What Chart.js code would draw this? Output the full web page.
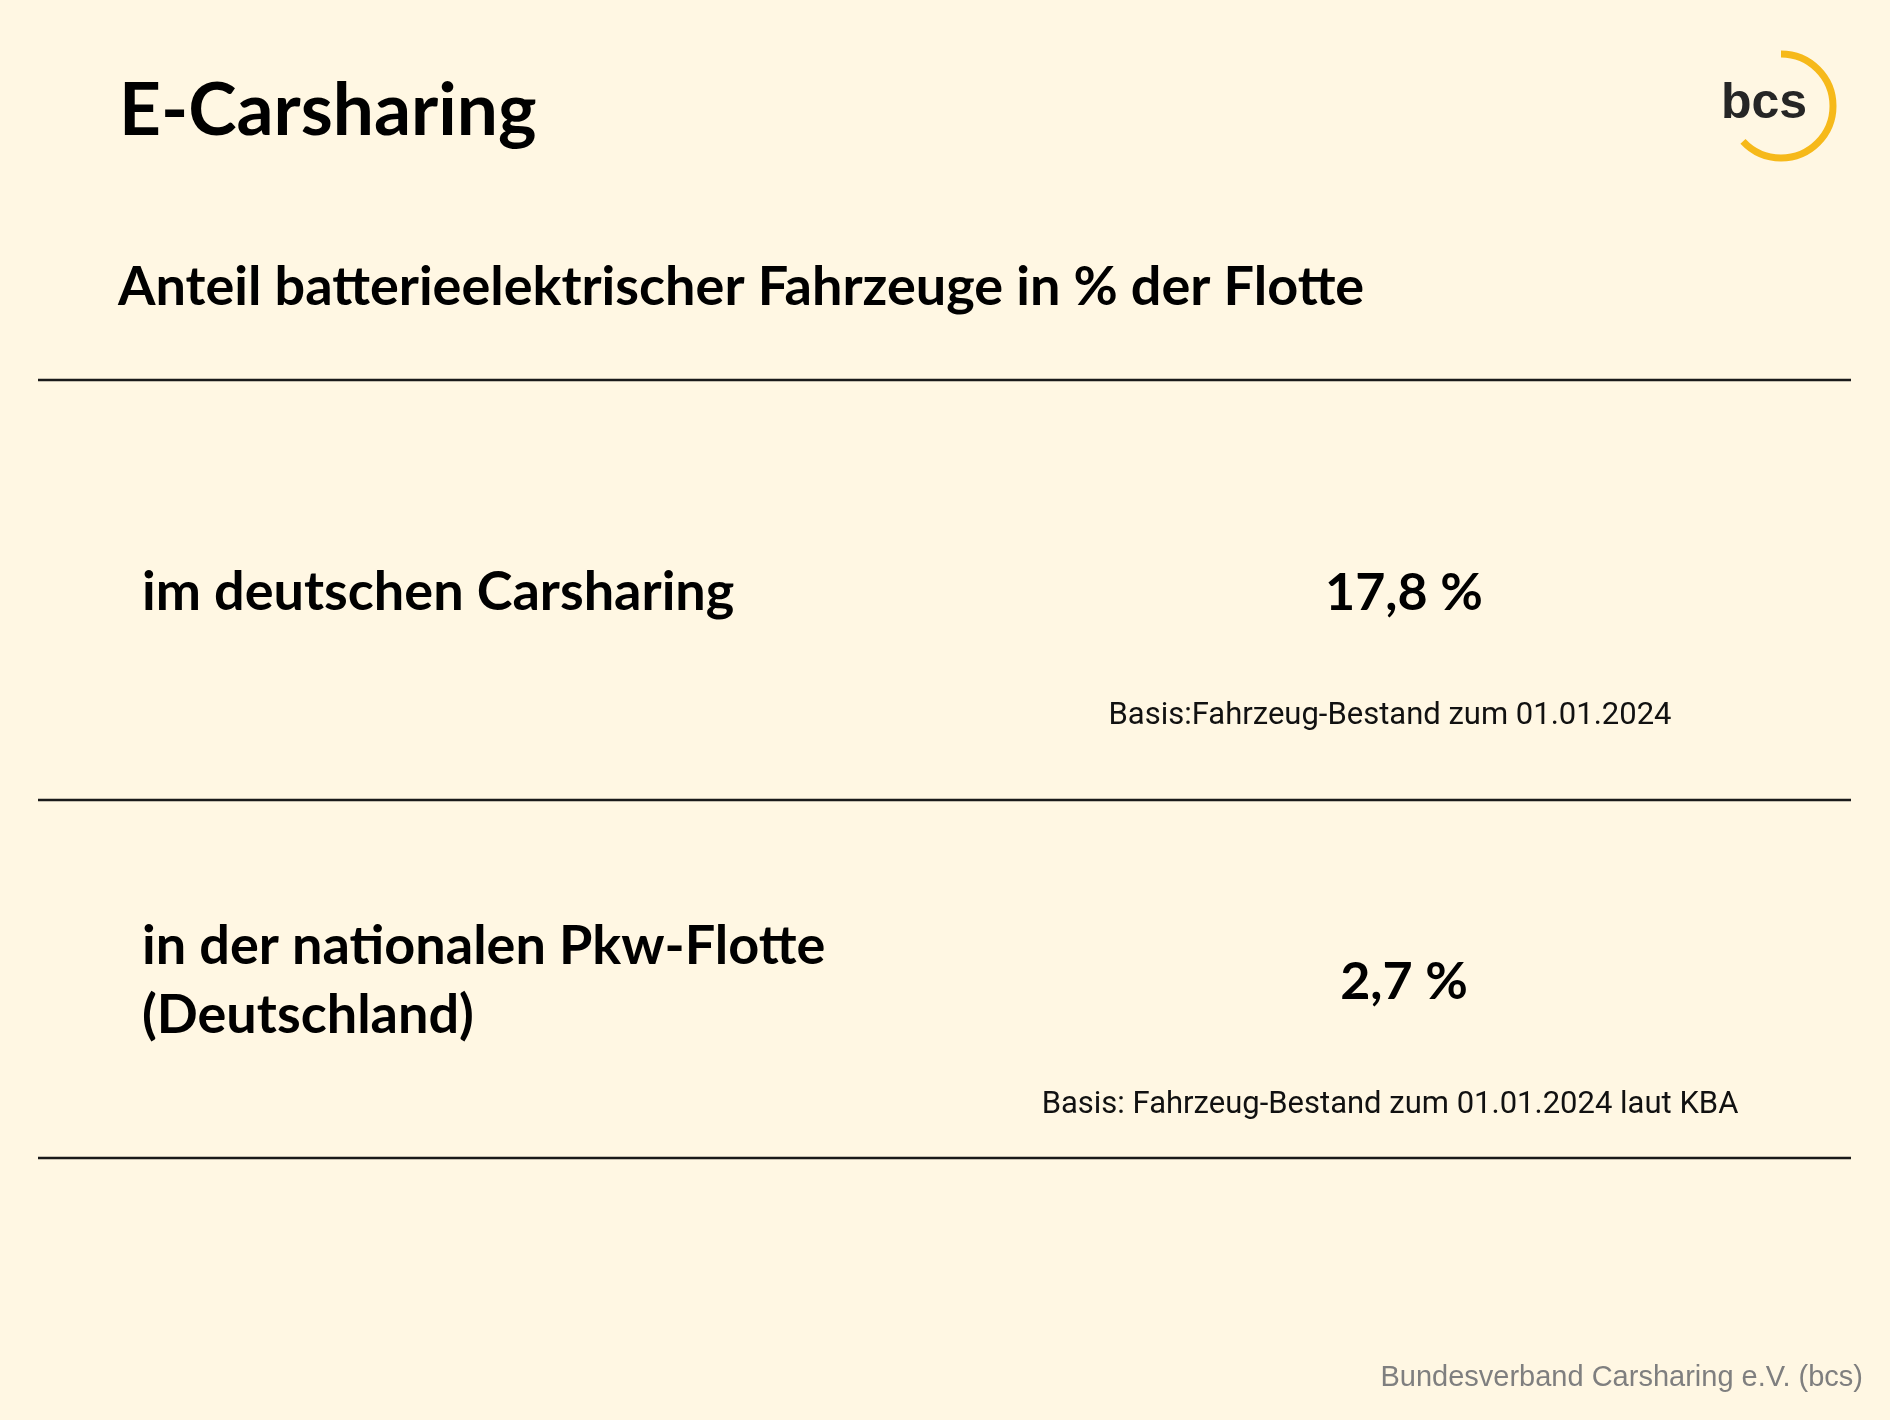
<!DOCTYPE html>
<html><head><meta charset="utf-8">
<script src="https://cdn.jsdelivr.net/npm/chart.js@4.4.1/dist/chart.umd.min.js"></script>
<style>
html,body{margin:0;padding:0;background:#FFF7E3;overflow:hidden;}
#wrap{width:1890px;height:1420px;position:relative;}
</style>
</head><body>
<div id="wrap"><canvas id="c" width="1890" height="1420"></canvas></div>
<script>
const titleText = 'E-Carsharing';
const subtitleText = 'Anteil batterieelektrischer Fahrzeuge in % der Flotte';
const categories = [['im deutschen Carsharing'], ['in der nationalen Pkw-Flotte', '(Deutschland)']];
const shares = [17.8, 2.7];
const basisNotes = ['Basis:Fahrzeug-Bestand zum 01.01.2024', 'Basis: Fahrzeug-Bestand zum 01.01.2024 laut KBA'];
const sourceText = 'Bundesverband Carsharing e.V. (bcs)';
const logoText = 'bcs';

const BG = '#FFF7E3';
const boldFont = '"Lato", "Open Sans", sans-serif';

function fmt(v) { return v.toFixed(1).replace('.', ',') + ' %'; }

const layoutPlugin = {
  id: 'tableLayout',
  beforeDraw(chart) {
    const ctx = chart.ctx;
    ctx.save();
    ctx.fillStyle = BG;
    ctx.fillRect(0, 0, chart.width, chart.height);
    ctx.restore();
  },
  afterDraw(chart) {
    const ctx = chart.ctx;
    const ca = chart.chartArea;
    const y = chart.scales.y;
    ctx.save();
    ctx.fillStyle = '#000';
    ctx.textBaseline = 'alphabetic';
    // title
    ctx.textAlign = 'left';
    ctx.font = 'bold 73px ' + boldFont;
    ctx.fillText(titleText, 119, 135);
    ctx.font = 'bold 54px ' + boldFont;
    ctx.fillText(subtitleText, 118, 305);

    // logo
    ctx.strokeStyle = '#F6B91A';
    ctx.lineWidth = 7;
    ctx.beginPath();
    ctx.arc(1781, 106, 52, -Math.PI / 2, 137 * Math.PI / 180);
    ctx.stroke();
    ctx.fillStyle = '#262626';
    ctx.font = 'bold 50px "Liberation Sans", Arial, sans-serif';
    ctx.textAlign = 'left';
    ctx.fillText(logoText, 1721, 118);

    // separators
    ctx.strokeStyle = '#1a1a1a';
    ctx.lineWidth = 2.5;
    const dividerY = 800;
    [ca.top, dividerY, ca.bottom].forEach(yy => {
      ctx.beginPath();
      ctx.moveTo(ca.left, yy);
      ctx.lineTo(ca.right, yy);
      ctx.stroke();
    });

    // rows
    const data = chart.data.datasets[0].data;
    chart.data.labels.forEach((lab, i) => {
      const yc = y.getPixelForValue(i);
      const base = yc + 35;
      const lines = Array.isArray(lab) ? lab : [lab];
      ctx.fillStyle = '#000';
      ctx.textAlign = 'left';
      ctx.font = 'bold 54px ' + boldFont;
      lines.forEach((ln, k) => {
        ctx.fillText(ln, 142, base - (lines.length - 1) * 69 / 2 + k * 69);
      });
      ctx.textAlign = 'center';
      ctx.font = 'bold 52px ' + boldFont;
      ctx.fillText(fmt(data[i]), 1404, base);
      ctx.font = '31px "Roboto", "Open Sans", sans-serif';
      ctx.fillStyle = '#111';
      ctx.fillText(basisNotes[i], 1390, yc + 149);
    });

    // footer
    ctx.textAlign = 'right';
    ctx.fillStyle = '#7f7f7f';
    ctx.font = '29px "Liberation Sans", Arial, sans-serif';
    ctx.fillText(sourceText, 1863, 1386);
    ctx.restore();
  }
};

new Chart(document.getElementById('c'), {
  type: 'bar',
  data: {
    labels: categories,
    datasets: [{ data: shares, backgroundColor: 'rgba(0,0,0,0)', borderWidth: 0 }]
  },
  options: {
    indexAxis: 'y',
    responsive: false,
    animation: false,
    devicePixelRatio: 1,
    layout: { padding: { top: 380, bottom: 262, left: 38, right: 39 } },
    plugins: { legend: { display: false }, tooltip: { enabled: false }, title: { display: false } },
    scales: {
      y: { type: 'category', offset: true, display: false },
      x: { display: false, min: 0, max: 20 }
    }
  },
  plugins: [layoutPlugin]
});
</script>
</body></html>
